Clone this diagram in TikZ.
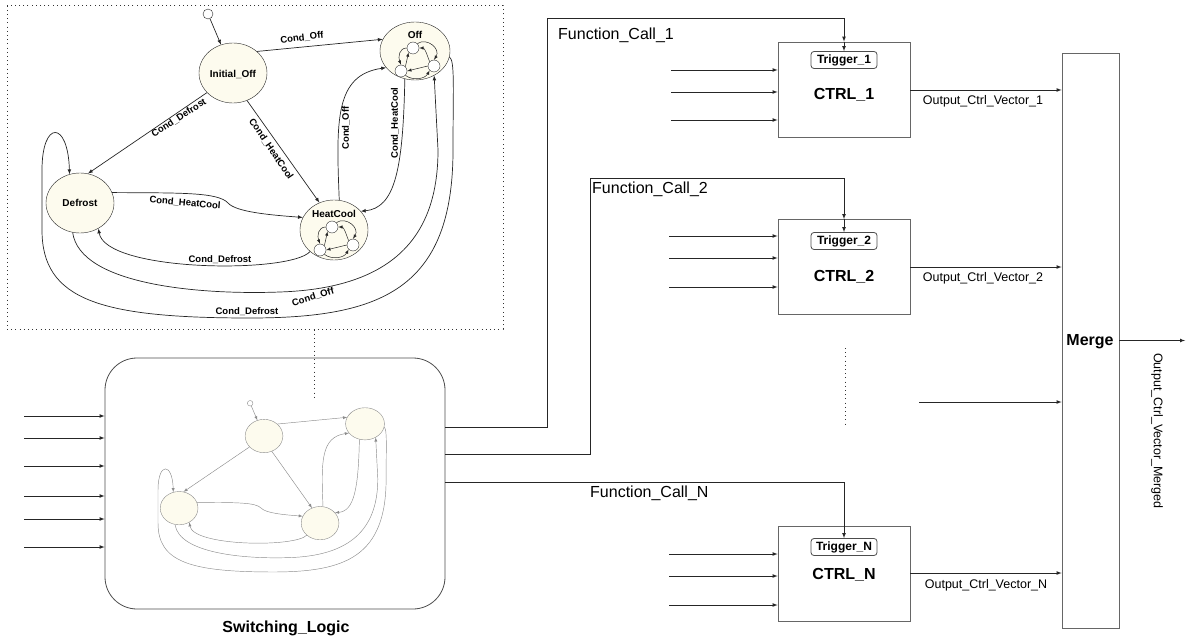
\documentclass[tikz,border=0pt]{standalone}
\usepackage{fontspec}
\setmainfont{Liberation Sans}
\usetikzlibrary{arrows,positioning,shapes}
\definecolor{statefill}{RGB}{253,251,238}
\tikzstyle{state}=[ellipse,draw=black!80,fill=statefill,inner sep=0pt,minimum width=68,minimum height=60]
\tikzstyle{startstate}=[circle,draw=black!70,fill=white,minimum size=10,inner sep=0pt]
\tikzstyle{substate}=[circle,draw=black!80,fill=white,minimum size=12,inner sep=0pt]
\tikzstyle{subarc}=[-latex,draw=black!85,line width=0.5pt]
\tikzstyle{statename}=[font=\fontsize{10}{12}\selectfont\bfseries,inner sep=0pt]
\tikzstyle{cond}=[font=\fontsize{9.5}{11}\selectfont\bfseries,inner sep=0pt]
\tikzstyle{block}=[rectangle,draw=black!60,line width=0.8pt,minimum width=132,minimum height=95]
\tikzstyle{trigger}=[rectangle,rounded corners=3,draw=black!70,line width=0.8pt,minimum width=66,
minimum height=17,inner sep=0pt,font=\fontsize{12}{14}\selectfont\bfseries]
\tikzstyle{blockname}=[font=\fontsize{16}{19}\selectfont\bfseries,inner sep=0pt]
\tikzstyle{callname}=[font=\fontsize{16}{19}\selectfont,anchor=west,inner sep=0pt]
\tikzstyle{outname}=[font=\fontsize{12.5}{15}\selectfont,inner sep=0pt]
\tikzstyle{wire}=[draw=black!85,line width=0.7pt]
\tikzstyle{dots}=[draw=black!80,line width=1pt,dash pattern=on 1pt off 3.2pt]

\begin{document}
\begin{tikzpicture}[x=1pt,y=-1pt]
            \useasboundingbox (0,0) rectangle (1188,639);

            % STATE CHART PART (big one and the small copy)

            \foreach \p/\sc/\dx/\dy/\col/\lw in {b/1/0/0/black!85/0.7pt, m/0.555/134.7/395.5/black!45/0.45pt}{
            \begin{scope}[shift={(\dx,\dy)},scale=\sc,transform shape,
                          chartarc/.style={-latex,draw=\col,line width=\lw}]
            \node[startstate,draw=\col] (ini\p) at (208,14) {};
            \node[state,draw=\col] (io\p) at (233,73) {};
            \node[state,draw=\col,minimum width=70,minimum height=58] (off\p) at (415,51) {};
            \node[state,draw=\col] (df\p) at (80,203) {};
            \node[state,draw=\col] (hc\p) at (334,230) {};

            \draw[chartarc] (ini\p) -- (io\p);
            \draw[chartarc] (io\p.42) -- (off\p.160);
            \draw[chartarc] (io\p.217) -- (df\p.75);
            \draw[chartarc] (io\p.297) -- (hc\p.118);
            \draw[chartarc] (df\p.18) .. controls (180,193) and (218,192) .. (228,203)
                .. controls (236,212) and (270,215) .. (hc\p.158);
            \draw[chartarc] (hc\p.222) .. controls (290,274) and (105,272) .. (df\p.306);
            \draw[chartarc] (hc\p.80) .. controls (336,120) and (335,75) .. (off\p.210);
            \draw[chartarc] (off\p.250) .. controls (403,170) and (395,208) .. (hc\p.35);
            \draw[chartarc] (df\p.256) .. controls (80,285) and (200,295) .. (280,292)
                .. controls (400,288) and (438,230) .. (438,150) -- (off\p.308);
            \draw[chartarc] (off\p.350) .. controls (455,60) and (453,90) .. (453,150)
                .. controls (453,290) and (380,318) .. (250,318)
                .. controls (100,318) and (42,300) .. (42,230) -- (42,170)
                .. controls (42,120) and (68,120) .. (df\p.110);
            \end{scope}
            }

            \node[statename] (ioname) at (233,74) {Initial\_Off};
            \node[statename] (dfname) at (80,203) {Defrost};
            \node[statename] (offname) at (415,35) {Off};
            \node[statename] (hcname) at (334,214) {HeatCool};

            \node[cond,rotate=7] (c1) at (302,38) {Cond\_Off};
            \node[cond,rotate=33] (c2) at (179,118) {Cond\_Defrost};
            \node[cond,rotate=-56] (c3) at (271,149) {Cond\_HeatCool};
            \node[cond,rotate=-5] (c4) at (185,203) {Cond\_HeatCool};
            \node[cond,rotate=90] (c5) at (346,128) {Cond\_Off};
            \node[cond,rotate=90] (c6) at (395,123) {Cond\_HeatCool};
            \node[cond] (c7) at (220,260) {Cond\_Defrost};
            \node[cond,rotate=17] (c8) at (313,297) {Cond\_Off};
            \node[cond] (c9) at (247,312) {Cond\_Defrost};

            % sub charts in Off and HeatCool
            \foreach \s in {off,hc}{
            \begin{scope}[shift={(\s b.center)}]
            \node[substate] (\s A) at (-2,-3) {};
            \node[substate] (\s B) at (-14,20) {};
            \node[substate] (\s C) at (19,15) {};
            \draw[subarc] (\s A.west) .. controls (-16,-3) and (-17,6) .. (\s B.north);
            \draw[subarc] (\s B.north east) -- (\s A.south west);
            \draw[subarc] (\s A.north east) .. controls (12,-14) and (26,-2) .. (\s C.north);
            \draw[subarc] (\s C.north west) .. controls (12,4) and (10,-3) .. (\s A.east);
            \draw[subarc] (\s C.west) -- (\s B.east);
            \draw[subarc] (\s B.south east) .. controls (-2,30) and (10,28) .. (\s C.south west);
            \end{scope}
            }

            \node[dots,minimum width=496,minimum height=323,inner sep=0pt] (chart) at (255,167.5) {};

            % SWITCHING LOGIC PART

            \node[draw=black!70,line width=0.8pt,rounded corners=32,minimum width=340,minimum height=251] (swl) at (275,483.5) {};
            \node[blockname] (swlname) at (286,628) {Switching\_Logic};
            \coordinate (zoomend) at (314,398);
            \draw[dots] (zoomend |- chart.south) -- (zoomend);

            \foreach \y [count=\i] in {416,438,466,496,519,547}{
            \coordinate (sin\i) at (24,\y);
            \draw[wire,-latex] (sin\i) -- (sin\i -| swl.west);
            }

            % CONTROLLER PART

            \node[block] (ctrl1) at (844,89.5) {};
            \node[trigger] (trig1) at (844,60) {Trigger\_1};
            \node[blockname] (ctrl1name) at (844,95) {CTRL\_1};

            \node[block] (ctrl2) at (844,267) {};
            \node[trigger] (trig2) at (844,241) {Trigger\_2};
            \node[blockname] (ctrl2name) at (844,277) {CTRL\_2};

            \node[block] (ctrlN) at (844,574) {};
            \node[trigger] (trigN) at (844,547) {Trigger\_N};
            \node[blockname] (ctrlNname) at (844,575) {CTRL\_N};

            \foreach \y [count=\i] in {70,92,120}{
            \coordinate (in1\i) at (671,\y);
            \draw[wire,-latex] (in1\i) -- (in1\i -| ctrl1.west);
            }
            \foreach \y [count=\i] in {236,258,287}{
            \coordinate (in2\i) at (669,\y);
            \draw[wire,-latex] (in2\i) -- (in2\i -| ctrl2.west);
            }
            \foreach \y [count=\i] in {554,576,605}{
            \coordinate (inN\i) at (669,\y);
            \draw[wire,-latex] (inN\i) -- (inN\i -| ctrlN.west);
            }

            \coordinate (vdots) at (845,348);
            \draw[dots] (vdots) -- ++(0,79);

            % Function calls

            \coordinate (fc1a) at (547,427);
            \coordinate (fc1b) at (547,18);
            \draw[wire,-latex] (fc1a -| swl.east) -- (fc1a) -- (fc1b) -| (ctrl1.north);
            \draw[wire,-latex] (ctrl1.north) -- (trig1.north);
            \node[callname] (fc1name) at (558,35) {Function\_Call\_1};

            \coordinate (fc2a) at (590,454);
            \coordinate (fc2b) at (590,178);
            \draw[wire,-latex] (fc2a -| swl.east) -- (fc2a) -- (fc2b) -| (ctrl2.north);
            \draw[wire,-latex] (ctrl2.north) -- (trig2.north);
            \node[callname] (fc2name) at (592,189) {Function\_Call\_2};

            \coordinate (fcN) at (600,482);
            \draw[wire,-latex] (fcN -| swl.east) -| (trigN.north);
            \node[callname] (fcNname) at (590,493) {Function\_Call\_N};

            % MERGE PART

            \node[block,minimum width=57,minimum height=575] (merge) at (1090.5,340.5) {};
            \node[blockname] (mergename) at (1090,342) {Merge};

            \coordinate (o1) at (985,90);
            \draw[wire,-latex] (o1 -| ctrl1.east) -- (o1 -| merge.west);
            \node[outname] (o1name) at (983,101) {Output\_Ctrl\_Vector\_1};
            \coordinate (o2) at (985,267);
            \draw[wire,-latex] (o2 -| ctrl2.east) -- (o2 -| merge.west);
            \node[outname] (o2name) at (983,278) {Output\_Ctrl\_Vector\_2};
            \coordinate (oN) at (985,573);
            \draw[wire,-latex] (oN -| ctrlN.east) -- (oN -| merge.west);
            \node[outname] (oNname) at (986,585) {Output\_Ctrl\_Vector\_N};
            \coordinate (omid) at (919,402);
            \draw[wire,-latex] (omid) -- (omid -| merge.west);

            \coordinate (mout) at (1185,340.5);
            \draw[wire,-latex] (merge.east) -- (mout);
            \node[outname,rotate=-90] (moutname) at (1157,431) {Output\_Ctrl\_Vector\_Merged};

\end{tikzpicture}
\end{document}
